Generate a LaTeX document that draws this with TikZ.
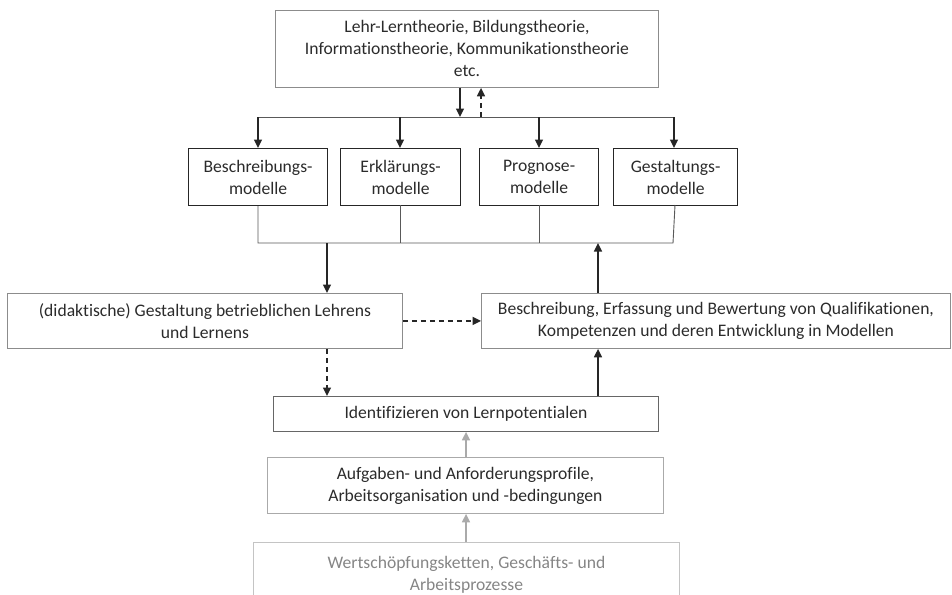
\documentclass[tikz,border=0pt]{standalone}
\usepackage{fontspec}
\setmainfont{Carlito}[Ligatures={NoCommon}]
\usetikzlibrary{arrows.meta}
\definecolor{txt}{HTML}{2B2B2B}
\definecolor{frame}{HTML}{8C8C8C}
\definecolor{lightframe}{HTML}{AAAAAA}
\definecolor{paleframe}{HTML}{C4C4C4}
\definecolor{paletxt}{HTML}{858585}
\begin{document}
\begin{tikzpicture}[x=1pt,y=-1pt,
  every node/.style={font=\fontsize{17.6}{22}\selectfont, text=txt, inner sep=0pt, align=center},
  box/.style={draw=frame, line width=0.9pt, anchor=north west},
  modelbox/.style={draw=black!85, line width=1.2pt, anchor=north west},
  arr/.style={line width=1.6pt, black!85, -{Triangle[length=8.5pt,width=8pt]}},
  darr/.style={arr, dash pattern=on 5pt off 4pt},
  garr/.style={line width=1.5pt, lightframe, -{Triangle[length=8.5pt,width=8pt]}},
  bus/.style={line width=0.9pt, black!65}]
\useasboundingbox (0,0) rectangle (952,594);
\clip (0,0) rectangle (952,594);

% theory box
\node[box, minimum width=383pt, minimum height=77pt] (top) at (275,10)
  {Lehr-Lerntheorie, Bildungstheorie,\\Informationstheorie, Kommunikationstheorie\\etc.};

% model boxes
\node[modelbox, minimum width=139pt, minimum height=57pt] (m1) at (188,148) {Beschreibungs-\\modelle};
\node[modelbox, minimum width=120pt, minimum height=57pt] (m2) at (340,148) {Erklärungs-\\modelle};
\node[modelbox, minimum width=119pt, minimum height=57pt] (m3) at (479,148) {Prognose-\\modelle};
\node[modelbox, minimum width=124pt, minimum height=57pt] (m4) at (613,148) {Gestaltungs-\\modelle};

% middle row
\node[box, minimum width=395pt, minimum height=55pt] (design) at (7,293)
  {(didaktische) Gestaltung betrieblichen Lehrens\\und Lernens};
\node[box, minimum width=469pt, minimum height=55pt] (assess) at (481,293)
  {Beschreibung, Erfassung und Bewertung von Qualifikationen,\\Kompetenzen und deren Entwicklung in Modellen};

% lower column
\node[box, draw=black!60, minimum width=385pt, minimum height=35pt] (ident) at (273,396)
  {Identifizieren von Lernpotentialen};
\node[box, draw=lightframe, minimum width=396pt, minimum height=56pt] (profile) at (267,457)
  {Aufgaben- und Anforderungsprofile,\\Arbeitsorganisation und -bedingungen};
\node[box, draw=paleframe, text=paletxt, minimum width=426pt, minimum height=64pt] (chain) at (253,542)
  {Wertschöpfungsketten, Geschäfts- und\\Arbeitsprozesse};

% upper distribution bus
\coordinate (tbL) at (258,117);
\coordinate (tbR) at (674,117);
\coordinate (tbIn) at (460,117);
\coordinate (tbOut) at (481,117);
\draw[bus] (tbL) -- (tbR);
\draw[arr] (top.south -| tbIn) -- (tbIn);
\draw[darr] (tbOut) -- (top.south -| tbOut);
\draw[arr] (tbL) -- (tbL |- m1.north);
\draw[arr] (400,117) -- (400,148);
\draw[arr] (539,117) -- (539,148);
\draw[arr] (tbR) -- (tbR |- m4.north);

% lower collecting bus
\coordinate (lbL) at (258,243);
\coordinate (lbR) at (673,243);
\coordinate (lbDown) at (327,243);
\coordinate (lbUp) at (598,243);
\draw[bus] (lbL |- m1.south) -- (lbL) -- (lbR) -- (675,205);
\draw[bus] (400,205) -- (400,243);
\draw[bus] (539,205) -- (539,243);
\draw[arr] (lbDown) -- (lbDown |- design.north);
\draw[arr] (assess.north -| lbUp) -- (lbUp);

% cross links
\draw[darr] (design.east) -- (assess.west);
\draw[darr] (design.south -| lbDown) -- (ident.north -| lbDown);
\draw[arr] (ident.north -| lbUp) -- (assess.south -| lbUp);
\draw[garr] (profile.north -| 466,0) -- (ident.south -| 466,0);
\draw[garr] (chain.north -| 466,0) -- (profile.south -| 466,0);
\end{tikzpicture}
\end{document}
